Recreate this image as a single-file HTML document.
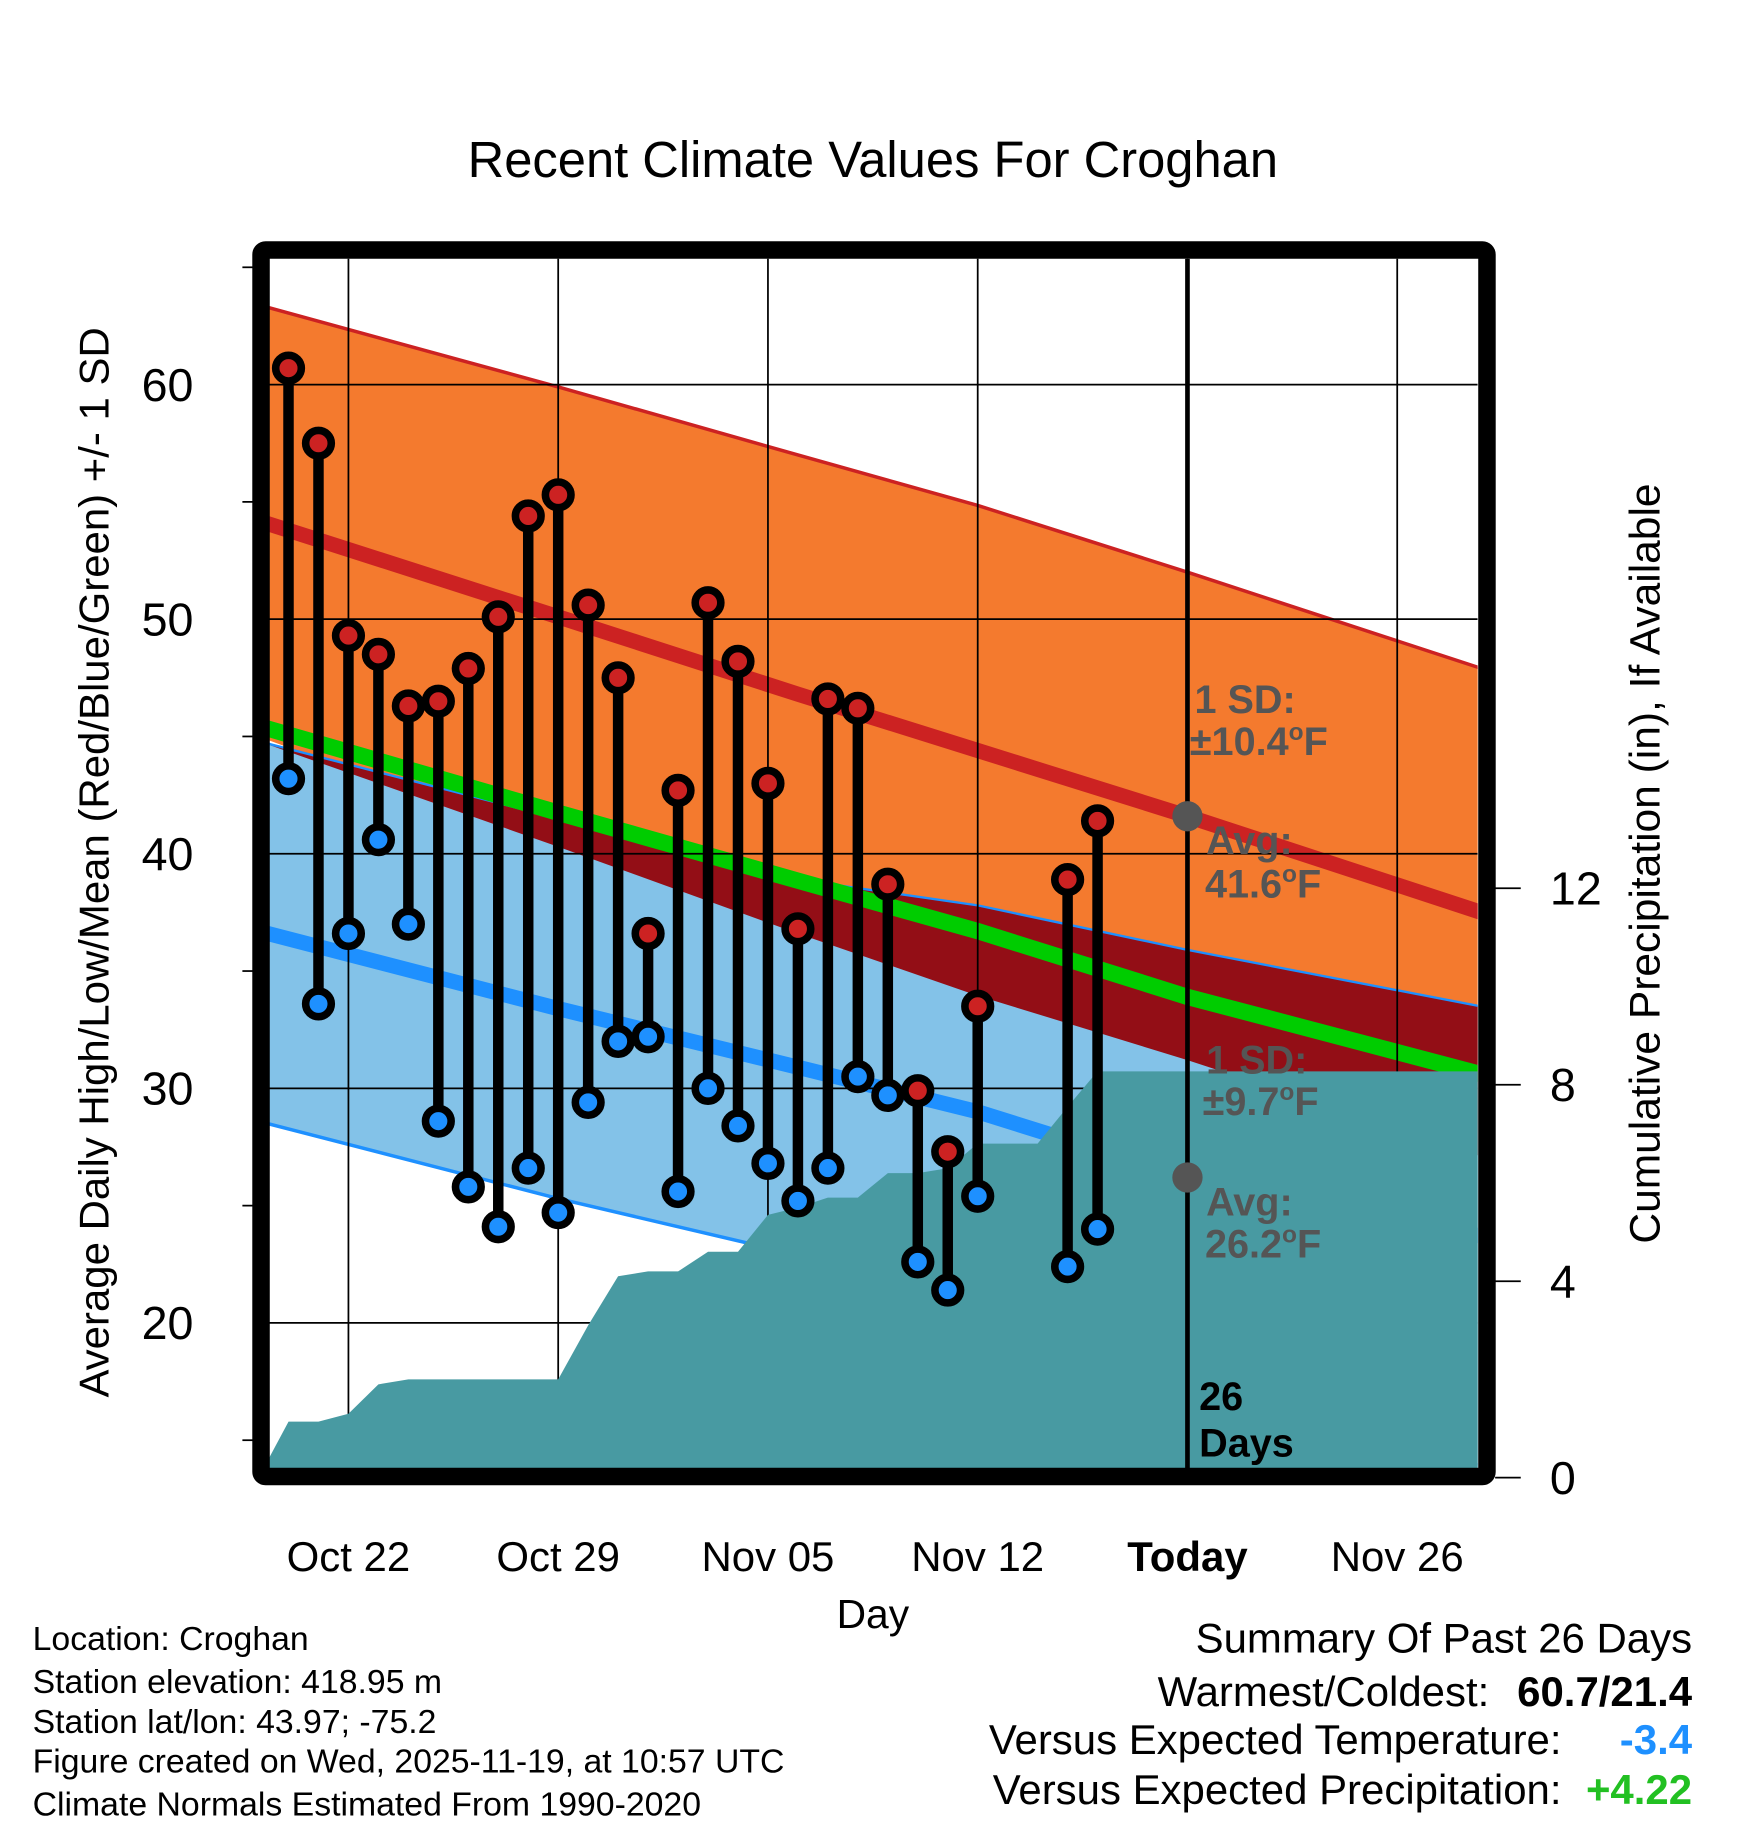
<!DOCTYPE html>
<html><head><meta charset="utf-8"><style>
html,body{margin:0;padding:0;background:#fff;}
svg{display:block;font-family:"Liberation Sans",sans-serif;}
</style></head><body>
<svg id="chart" width="1748" height="1828" viewBox="0 0 1500 1568.6" xmlns="http://www.w3.org/2000/svg">
<defs><clipPath id="plotclip"><rect x="231" y="222" width="1037" height="1038"/></clipPath></defs>
<text x="749" y="152" font-size="43.5" text-anchor="middle">Recent Climate Values For Croghan</text>
<g id="plot" clip-path="url(#plotclip)"></g>
<g id="over"></g>
<rect x="224" y="214.5" width="1052" height="1052.5" rx="4" fill="none" stroke="#000" stroke-width="15"/>
<g id="axes"></g>
<text transform="translate(93,740) rotate(-90)" font-size="36" text-anchor="middle">Average Daily High/Low/Mean (Red/Blue/Green) +/- 1 SD</text>
<text transform="translate(1424,741) rotate(-90)" font-size="36.5" text-anchor="middle">Cumulative Precipitation (in), If Available</text>
<text x="749" y="1397" font-size="35" text-anchor="middle">Day</text>
<g font-size="29">
<text x="28" y="1416">Location: Croghan</text>
<text x="28" y="1453">Station elevation: 418.95 m</text>
<text x="28" y="1487">Station lat/lon: 43.97; -75.2</text>
<text x="28" y="1521">Figure created on Wed, 2025-11-19, at 10:57 UTC</text>
<text x="28" y="1558">Climate Normals Estimated From 1990-2020</text>
</g>
<g font-size="36" text-anchor="end">
<text x="1452" y="1418">Summary Of Past 26 Days</text>
<text x="1278" y="1464">Warmest/Coldest:</text>
<text x="1452" y="1464" font-weight="bold">60.7/21.4</text>
<text x="1340" y="1505">Versus Expected Temperature:</text>
<text x="1452" y="1505" font-weight="bold" fill="#1e90ff">-3.4</text>
<text x="1340" y="1548">Versus Expected Precipitation:</text>
<text x="1452" y="1548" font-weight="bold" fill="#22c022">+4.22</text>
</g>
</svg>
<script>
// observation days (0 = Oct 19)
const obsDays = [1,2,3,4,5,6,7,8,9,10,11,12,13,14,15,16,17,18,19,20,21,22,23,24,27,28];
const highs = [60.7,57.5,49.3,48.5,46.3,46.5,47.9,50.1,54.4,55.3,50.6,47.5,36.6,42.7,50.7,48.2,43.0,36.8,46.6,46.2,38.7,29.9,27.3,33.5,38.9,41.4];
const lows = [43.2,33.6,36.6,40.6,37.0,28.6,25.8,24.1,26.6,24.7,29.4,32.0,32.2,25.6,30.0,28.4,26.8,25.2,26.6,30.5,29.7,22.6,21.4,25.4,22.4,24.0];
// cumulative precipitation
const precipDays = [0,1,2,3,4,5,6,7,8,9,10,11,12,13,14,15,16,17,18,19,20,21,22,23,24,25,26,27,28,42];
const precip = [0,1.14,1.14,1.3,1.9,2.0,2.0,2.0,2.0,2.0,2.0,3.1,4.1,4.2,4.2,4.6,4.6,5.35,5.5,5.7,5.7,6.2,6.2,6.3,6.8,6.8,6.8,7.55,8.27,8.27];
// normals
const normDays = [0,10,18,24,31,42];
const hiMean = [54.2,50.1,46.8,44.4,41.6,37.0];
const hiSD = [9.2,9.8,10.2,10.45,10.4,10.4];
const loMean = [36.7,33.4,30.9,29.0,26.2,23.4];
const loSD = [8.1,8.1,8.0,8.8,9.7,9.8];
const tempTicks = [20,30,40,50,60];
const tempMinor = [15,25,35,45,55,65];
const precipTicks = [0,4,8,12];
const dateTickDays = [3,10,17,24,31,38];
const dateTickLabels = ["Oct 22","Oct 29","Nov 05","Nov 12","Today","Nov 26"];
const todayDay = 31;

const NS="http://www.w3.org/2000/svg";
const xd = d => 299 + (d-3)*25.714;
const yT = t => 330 + (60-t)*20.13;
const yP = p => 1268 - p*42.15;
function mk(tag, attrs, parent){const e=document.createElementNS(NS,tag);for(const k in attrs)e.setAttribute(k,attrs[k]);parent.appendChild(e);return e;}
const plot=document.getElementById('plot'), over=document.getElementById('over'), axes=document.getElementById('axes');

function series(fn){return normDays.map((d,i)=>[xd(d), fn(i)]);}
function pts(a){return a.map(p=>p[0].toFixed(1)+','+p[1].toFixed(1)).join(' ');}
const hiUp = series(i=>yT(hiMean[i]+hiSD[i]));
const hiLo = series(i=>yT(hiMean[i]-hiSD[i]));
const loUp = series(i=>yT(loMean[i]+loSD[i]));
const loLo = series(i=>yT(loMean[i]-loSD[i]));
const ovLo = series(i=>yT(Math.min(hiMean[i]-hiSD[i], loMean[i]+loSD[i])));
const hiM = series(i=>yT(hiMean[i]));
const loM = series(i=>yT(loMean[i]));
const avM = series(i=>yT((hiMean[i]+loMean[i])/2));

let e;
e=mk('polygon',{points:pts(hiUp.concat(hiLo.slice().reverse())),fill:'#f47a2e'},plot);


e=mk('polygon',{points:pts(loUp.concat(loLo.slice().reverse())),fill:'#83c2e8'},plot);


e=mk('polygon',{points:pts(loUp.concat(ovLo.slice().reverse())),fill:'#930e16'},plot);


function line(a,color,w,name){const l=mk('polyline',{points:pts(a),fill:'none',stroke:color,'stroke-width':w},plot);

}
line(hiUp,'#cc2222',3,'high-upper-sd-line');
line(loUp,'#1e90ff',2,'low-upper-sd-line');
line(loLo,'#1e90ff',3,'low-lower-sd-line');
line(hiM,'#cc2222',13,'high-mean-line');
line(loM,'#1e90ff',13,'low-mean-line');
line(avM,'#00cc00',14,'mean-line');

// gridlines
tempTicks.forEach(t=>{const g=mk('line',{x1:180,x2:1268,y1:yT(t),y2:yT(t),stroke:'#000','stroke-width':1.5},plot);

});
dateTickDays.forEach(d=>{const g=mk('line',{x1:xd(d),x2:xd(d),y1:180,y2:1300,stroke:'#000','stroke-width':1.5},plot);

});

// precip area
const pp=precipDays.map((d,i)=>[xd(d),yP(precip[i])]);
pp.push([xd(42),1300]);pp.push([xd(0),1300]);
e=mk('polygon',{points:pts(pp),fill:'#489aa2'},plot);



// today line
e=mk('line',{x1:xd(todayDay),x2:xd(todayDay),y1:222,y2:1260,stroke:'#000','stroke-width':4},plot);



// annotations
const ti=normDays.indexOf(todayDay);
e=mk('circle',{cx:xd(todayDay),cy:yT(hiMean[ti]),r:13,fill:'#555'},plot);


e=mk('circle',{cx:xd(todayDay),cy:yT(loMean[ti]),r:13,fill:'#555'},plot);



// stems
obsDays.forEach((d,i)=>{
 const x=xd(d);
 const s=mk('line',{x1:x,x2:x,y1:yT(highs[i]),y2:yT(lows[i]),stroke:'#000','stroke-width':9},plot);
 
 
 const h=mk('circle',{cx:x,cy:yT(highs[i]),r:11,fill:'#cc2222',stroke:'#000','stroke-width':6.5},plot);
 
 
 const l=mk('circle',{cx:x,cy:yT(lows[i]),r:11,fill:'#1e90ff',stroke:'#000','stroke-width':6.5},plot);
 
 
});

// text annotations
function txt(x,y,s,fill,name,size){const t=mk('text',{x:x,y:y,'font-size':size||34,'font-weight':'bold',fill:fill},over);t.innerHTML=s;

}
const deg='<tspan dy="-13" font-size="21">o</tspan><tspan dy="13">F</tspan>';
txt(1025,612,'1 SD:','#555','high-sd-label');
txt(1021,648,'±'+hiSD[ti].toFixed(1)+deg,'#555','high-sd-value');
txt(1035,733,'Avg:','#555','high-avg-label');
txt(1034,770,hiMean[ti].toFixed(1)+deg,'#555','high-avg-value');
txt(1035,921,'1 SD:','#555','low-sd-label');
txt(1032,957,'±'+loSD[ti].toFixed(1)+deg,'#555','low-sd-value');
txt(1035,1043,'Avg:','#555','low-avg-label');
txt(1034,1079,loMean[ti].toFixed(1)+deg,'#555','low-avg-value');
txt(1029,1210,'26','#000','days-count');
txt(1029,1250,'Days','#000','days-label');

// axes ticks/labels
tempTicks.forEach(t=>{const l=mk('text',{x:166,y:yT(t)+14,'font-size':40,'text-anchor':'end'},axes);l.textContent=t;

});
tempMinor.forEach(t=>{const m=mk('line',{x1:208,x2:217,y1:yT(t),y2:yT(t),stroke:'#000','stroke-width':1.5},axes);

});
precipTicks.forEach(p=>{const m=mk('line',{x1:1283,x2:1305,y1:yP(p),y2:yP(p),stroke:'#000','stroke-width':1.5},axes);


const l=mk('text',{x:1330,y:yP(p)+14,'font-size':40},axes);l.textContent=p;

});
dateTickDays.forEach((d,i)=>{const l=mk('text',{x:xd(d),y:1348,'font-size':36,'text-anchor':'middle'},axes);l.textContent=dateTickLabels[i];
if(dateTickLabels[i]==='Today')l.setAttribute('font-weight','bold');

});
</script>
</body></html>
